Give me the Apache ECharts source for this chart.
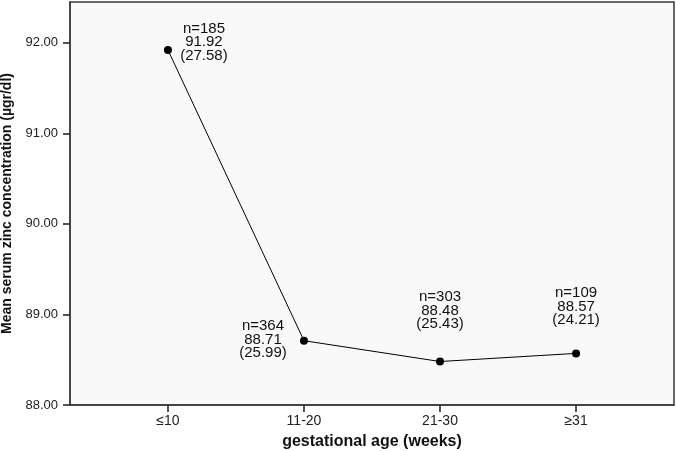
<!DOCTYPE html>
<html><head><meta charset="utf-8">
<script src="https://cdn.jsdelivr.net/npm/echarts@6/dist/echarts.min.js"></script>
<style>html,body{margin:0;padding:0;background:#fff}#c{width:676px;height:451px}</style>
</head><body><div id="c"></div>
<script>
const categories = ['≤10', '11-20', '21-30', '≥31'];
const means = [91.92, 88.71, 88.48, 88.57];
const counts = [185, 364, 303, 109];
const sds = [27.58, 25.99, 25.43, 24.21];
const yTicks = [88, 89, 90, 91, 92];
const labelOffsets = [[36, -8], [-41, -1], [0, -51], [0, -47]];

const font = '"Liberation Sans", Arial, sans-serif';
const chart = echarts.init(document.getElementById('c'));
chart.setOption({
  animation: false,
  backgroundColor: '#ffffff',
  grid: { left: 70, right: 2, top: 2, bottom: 46, outerBoundsMode: 'none', containLabel: false, show: true, backgroundColor: '#f9f9f9', borderColor: '#3a3a3a', borderWidth: 1.5 },
  xAxis: {
    type: 'value', min: -0.72, max: 3.72,
    name: 'gestational age (weeks)', nameLocation: 'middle', nameGap: 29,
    nameTextStyle: { fontFamily: font, fontWeight: 'bold', fontSize: 16, color: '#111' },
    axisLine: { show: true, onZero: false, lineStyle: { color: '#3a3a3a', width: 1.5 } },
    axisTick: { show: true, customValues: [0, 1, 2, 3], length: 7, lineStyle: { color: '#2a2a2a', width: 1.6 } },
    axisLabel: { customValues: [0, 1, 2, 3], formatter: v => categories[Math.round(v)], fontFamily: font, fontSize: 14, color: '#222', margin: 9 },
    splitLine: { show: false }
  },
  yAxis: {
    type: 'value', min: 88, max: 92.45,
    name: 'Mean serum zinc concentration (µgr/dl)', nameLocation: 'middle', nameGap: 53,
    nameTextStyle: { fontFamily: font, fontWeight: 'bold', fontSize: 14, color: '#111' },
    axisLine: { show: true, onZero: false, lineStyle: { color: '#3a3a3a', width: 1.5 } },
    axisTick: { show: true, customValues: yTicks, length: 7, lineStyle: { color: '#2a2a2a', width: 1.6 } },
    axisLabel: { customValues: yTicks, formatter: v => v.toFixed(2), fontFamily: font, fontSize: 13, color: '#222', margin: 12 },
    splitLine: { show: false }
  },
  series: [{
    type: 'line',
    data: means.map((v, i) => ({
      value: [i, v],
      label: { offset: labelOffsets[i] }
    })),
    symbol: 'circle', symbolSize: 8,
    itemStyle: { color: '#000' },
    lineStyle: { color: '#000', width: 1 },
    label: {
      show: true, position: 'inside', align: 'center', verticalAlign: 'middle',
      fontFamily: font, fontSize: 15, lineHeight: 13.5, color: '#111',
      formatter: p => 'n=' + counts[p.dataIndex] + '\n' + means[p.dataIndex].toFixed(2) + '\n(' + sds[p.dataIndex].toFixed(2) + ')'
    }
  }]
});
</script></body></html>
